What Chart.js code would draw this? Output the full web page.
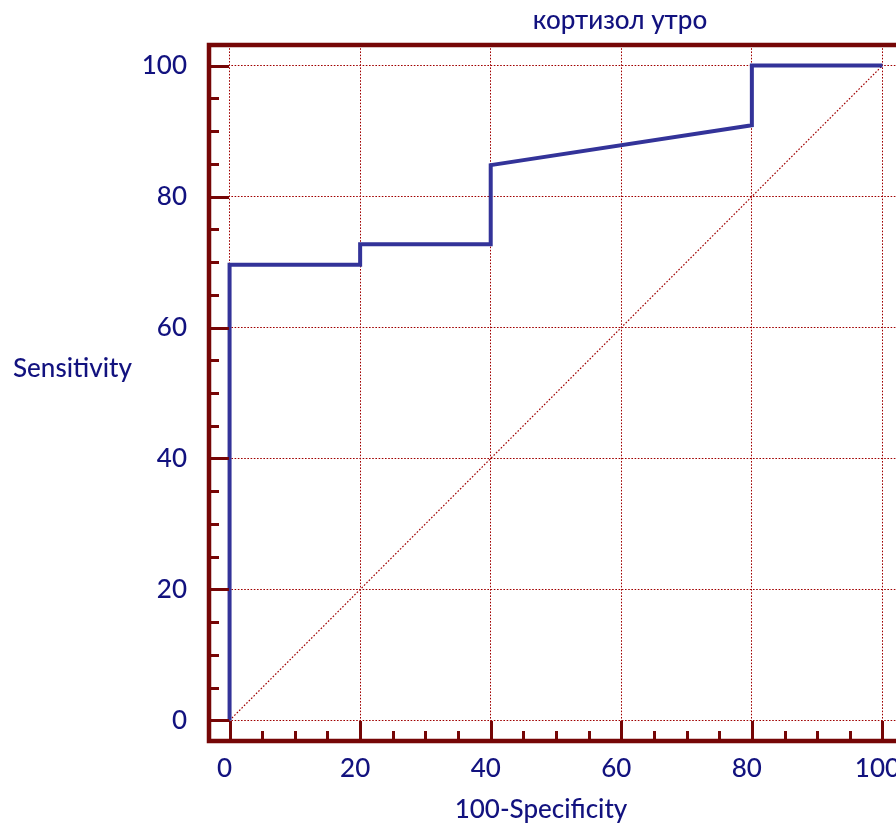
<!DOCTYPE html>
<html>
<head>
<meta charset="utf-8">
<script src="https://cdn.jsdelivr.net/npm/chart.js@4/dist/chart.umd.min.js"></script>
<style>
  html, body { margin: 0; padding: 0; background: #ffffff; overflow: hidden; }
  #wrap { width: 896px; height: 826px; overflow: hidden; position: relative; }
  canvas { display: block; }
</style>
</head>
<body>
<div id="wrap"><canvas id="roc" width="930" height="826"></canvas></div>
<script>
// ROC curve points (100-Specificity, Sensitivity)
const rocX = [0, 0, 20, 20, 40, 40, 80, 80, 100];
const rocY = [0, 69.6, 69.6, 72.7, 72.7, 84.8, 90.9, 100, 100];
// Reference (chance) line
const diagX = [0, 100];
const diagY = [0, 100];
// Tick labels on both axes
const xTicks = [0, 20, 40, 60, 80, 100];
const yTicks = [0, 20, 40, 60, 80, 100];

const chartTitle = 'кортизол утро';
const xTitle = '100-Specificity';
const yTitle = 'Sensitivity';

const FONT = "Lato, 'Open Sans', sans-serif";
const WEIGHT = '500';
const NAVY = '#12127f';
const FRAME = '#760606';
const GRID = '#a00000';

// Frame with inward major/minor tick marks
const framePlugin = {
  id: 'frame',
  afterDraw(chart) {
    const { ctx, chartArea: a, scales } = chart;
    const xs = scales.x, ys = scales.y;
    ctx.save();
    ctx.strokeStyle = FRAME;
    ctx.lineCap = 'butt';
    ctx.lineWidth = 3;
    for (let v = 0; v <= 100; v += 5) {
      const len = v % 20 === 0 ? 20 : 10;
      const py = Math.round(ys.getPixelForValue(v)) + 0.5;
      ctx.beginPath(); ctx.moveTo(a.left, py); ctx.lineTo(a.left + len, py); ctx.stroke();
      const px = Math.round(xs.getPixelForValue(v)) + 0.5;
      ctx.beginPath(); ctx.moveTo(px, a.bottom); ctx.lineTo(px, a.bottom - len); ctx.stroke();
    }
    ctx.lineWidth = 4.5;
    ctx.beginPath();
    ctx.moveTo(chart.width, a.top);
    ctx.lineTo(a.left, a.top);
    ctx.lineTo(a.left, a.bottom);
    ctx.lineTo(chart.width, a.bottom);
    ctx.stroke();
    ctx.restore();
  }
};

// Chart title and axis titles
const titlesPlugin = {
  id: 'titles',
  afterDraw(chart) {
    const { ctx } = chart;
    ctx.save();
    ctx.fillStyle = NAVY;
    ctx.font = WEIGHT + ' 26px ' + FONT;
    ctx.textBaseline = 'alphabetic';
    ctx.textAlign = 'center';
    ctx.fillText(chartTitle, 620, 29);
    ctx.fillText(xTitle, 541, 818);
    ctx.textAlign = 'left';
    ctx.fillText(yTitle, 13, 377);
    ctx.restore();
  }
};

const tickStyle = {
  font: { family: FONT, size: 26, weight: WEIGHT },
  color: NAVY
};

new Chart(document.getElementById('roc'), {
  type: 'line',
  data: {
    datasets: [
      {
        data: rocX.map((x, i) => ({ x, y: rocY[i] })),
        borderColor: '#333399',
        borderWidth: 4,
        pointRadius: 0,
        tension: 0,
        fill: false,
        order: 0
      },
      {
        data: diagX.map((x, i) => ({ x, y: diagY[i] })),
        borderColor: GRID,
        borderWidth: 1.2,
        borderDash: [1.6, 1.8],
        pointRadius: 0,
        fill: false,
        order: 1
      }
    ]
  },
  options: {
    responsive: false,
    animation: false,
    devicePixelRatio: 1,
    layout: { padding: { left: 0, top: 45, right: 27, bottom: 0 } },
    plugins: { legend: { display: false }, tooltip: { enabled: false }, title: { display: false } },
    scales: {
      x: {
        type: 'linear',
        min: -3.15,
        max: 103.15,
        afterBuildTicks(s) { s.ticks = xTicks.map(v => ({ value: v })); },
        afterFit(s) { s.height = 85; },
        grid: { color: GRID, lineWidth: 1, drawTicks: false },
        border: { display: false, dash: [1.6, 1.6] },
        ticks: Object.assign({ padding: 12, labelOffset: -5, maxRotation: 0 }, tickStyle)
      },
      y: {
        type: 'linear',
        min: -3.15,
        max: 103.15,
        afterBuildTicks(s) { s.ticks = yTicks.map(v => ({ value: v })); },
        afterFit(s) { s.width = 209; },
        grid: { color: GRID, lineWidth: 1, drawTicks: false },
        border: { display: false, dash: [1.6, 1.6] },
        ticks: Object.assign({ padding: 22 }, tickStyle)
      }
    }
  },
  plugins: [framePlugin, titlesPlugin]
});
</script>
</body>
</html>
